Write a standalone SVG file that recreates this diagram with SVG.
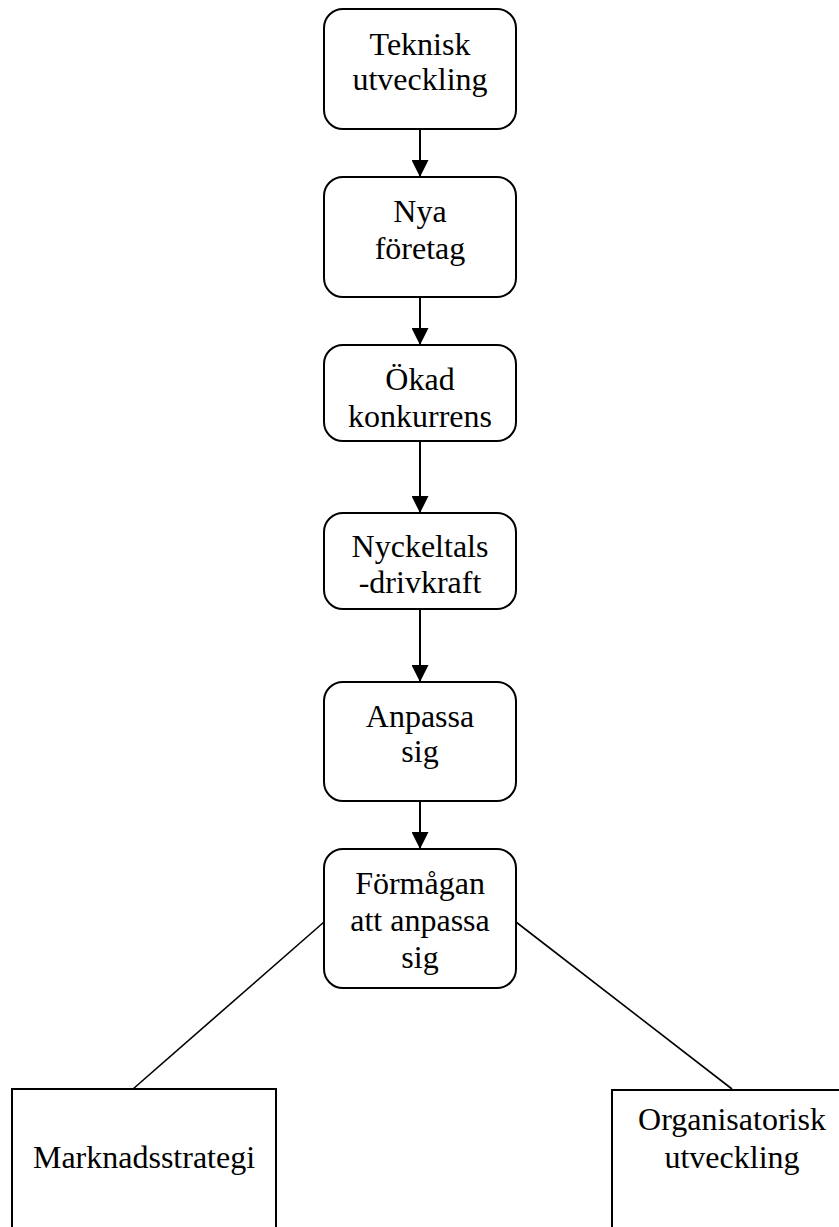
<svg xmlns="http://www.w3.org/2000/svg" width="839" height="1227" viewBox="0 0 839 1227">
<style>
.box{fill:#fff;stroke:#000;stroke-width:2}
.t{font-family:"Liberation Serif","Times New Roman",serif;font-size:32px;fill:#000;text-anchor:middle}
.arr{stroke:#000;stroke-width:2;fill:none}
.ln{stroke:#000;stroke-width:1.6;fill:none}
</style>
<defs>
<marker id="ah" markerWidth="17" markerHeight="17" refX="17" refY="8.5" orient="auto" markerUnits="userSpaceOnUse">
<path d="M0,0 L17,8.5 L0,17 Z" fill="#000"/>
</marker>
</defs>
<rect width="839" height="1227" fill="#fff"/>
<g id="connectors">
<line class="arr" x1="420" y1="129" x2="420" y2="177" marker-end="url(#ah)"/>
<line class="arr" x1="420" y1="297" x2="420" y2="345" marker-end="url(#ah)"/>
<line class="arr" x1="420" y1="441" x2="420" y2="513" marker-end="url(#ah)"/>
<line class="arr" x1="420" y1="609" x2="420" y2="682" marker-end="url(#ah)"/>
<line class="arr" x1="420" y1="801" x2="420" y2="849" marker-end="url(#ah)"/>
<line class="ln" x1="324" y1="922" x2="133" y2="1089"/>
<line class="ln" x1="516" y1="922" x2="732" y2="1089"/>
</g>
<g id="n1"><rect class="box" x="324" y="9" width="192" height="120" rx="19"/>
<text class="t" x="420" y="55">Teknisk</text><text class="t" x="420" y="90">utveckling</text></g>
<g id="n2"><rect class="box" x="324" y="177" width="192" height="120" rx="19"/>
<text class="t" x="420" y="222">Nya</text><text class="t" x="420" y="259">företag</text></g>
<g id="n3"><rect class="box" x="324" y="345" width="192" height="96" rx="19"/>
<text class="t" x="420" y="390">Ökad</text><text class="t" x="420" y="427">konkurrens</text></g>
<g id="n4"><rect class="box" x="324" y="513" width="192" height="96" rx="19"/>
<text class="t" x="420" y="557">Nyckeltals</text><text class="t" x="420" y="593">-drivkraft</text></g>
<g id="n5"><rect class="box" x="324" y="682" width="192" height="119" rx="19"/>
<text class="t" x="420" y="727">Anpassa</text><text class="t" x="420" y="762">sig</text></g>
<g id="n6"><rect class="box" x="324" y="849" width="192" height="139" rx="19"/>
<text class="t" x="420" y="894">Förmågan</text><text class="t" x="420" y="931">att anpassa</text><text class="t" x="420" y="968">sig</text></g>
<g id="n7"><rect class="box" x="12" y="1089" width="264" height="160"/>
<text class="t" x="144" y="1168">Marknadsstrategi</text></g>
<g id="n8"><rect class="box" x="612" y="1090" width="240" height="160"/>
<text class="t" x="732" y="1130">Organisatorisk</text><text class="t" x="732" y="1168">utveckling</text></g>
</svg>
